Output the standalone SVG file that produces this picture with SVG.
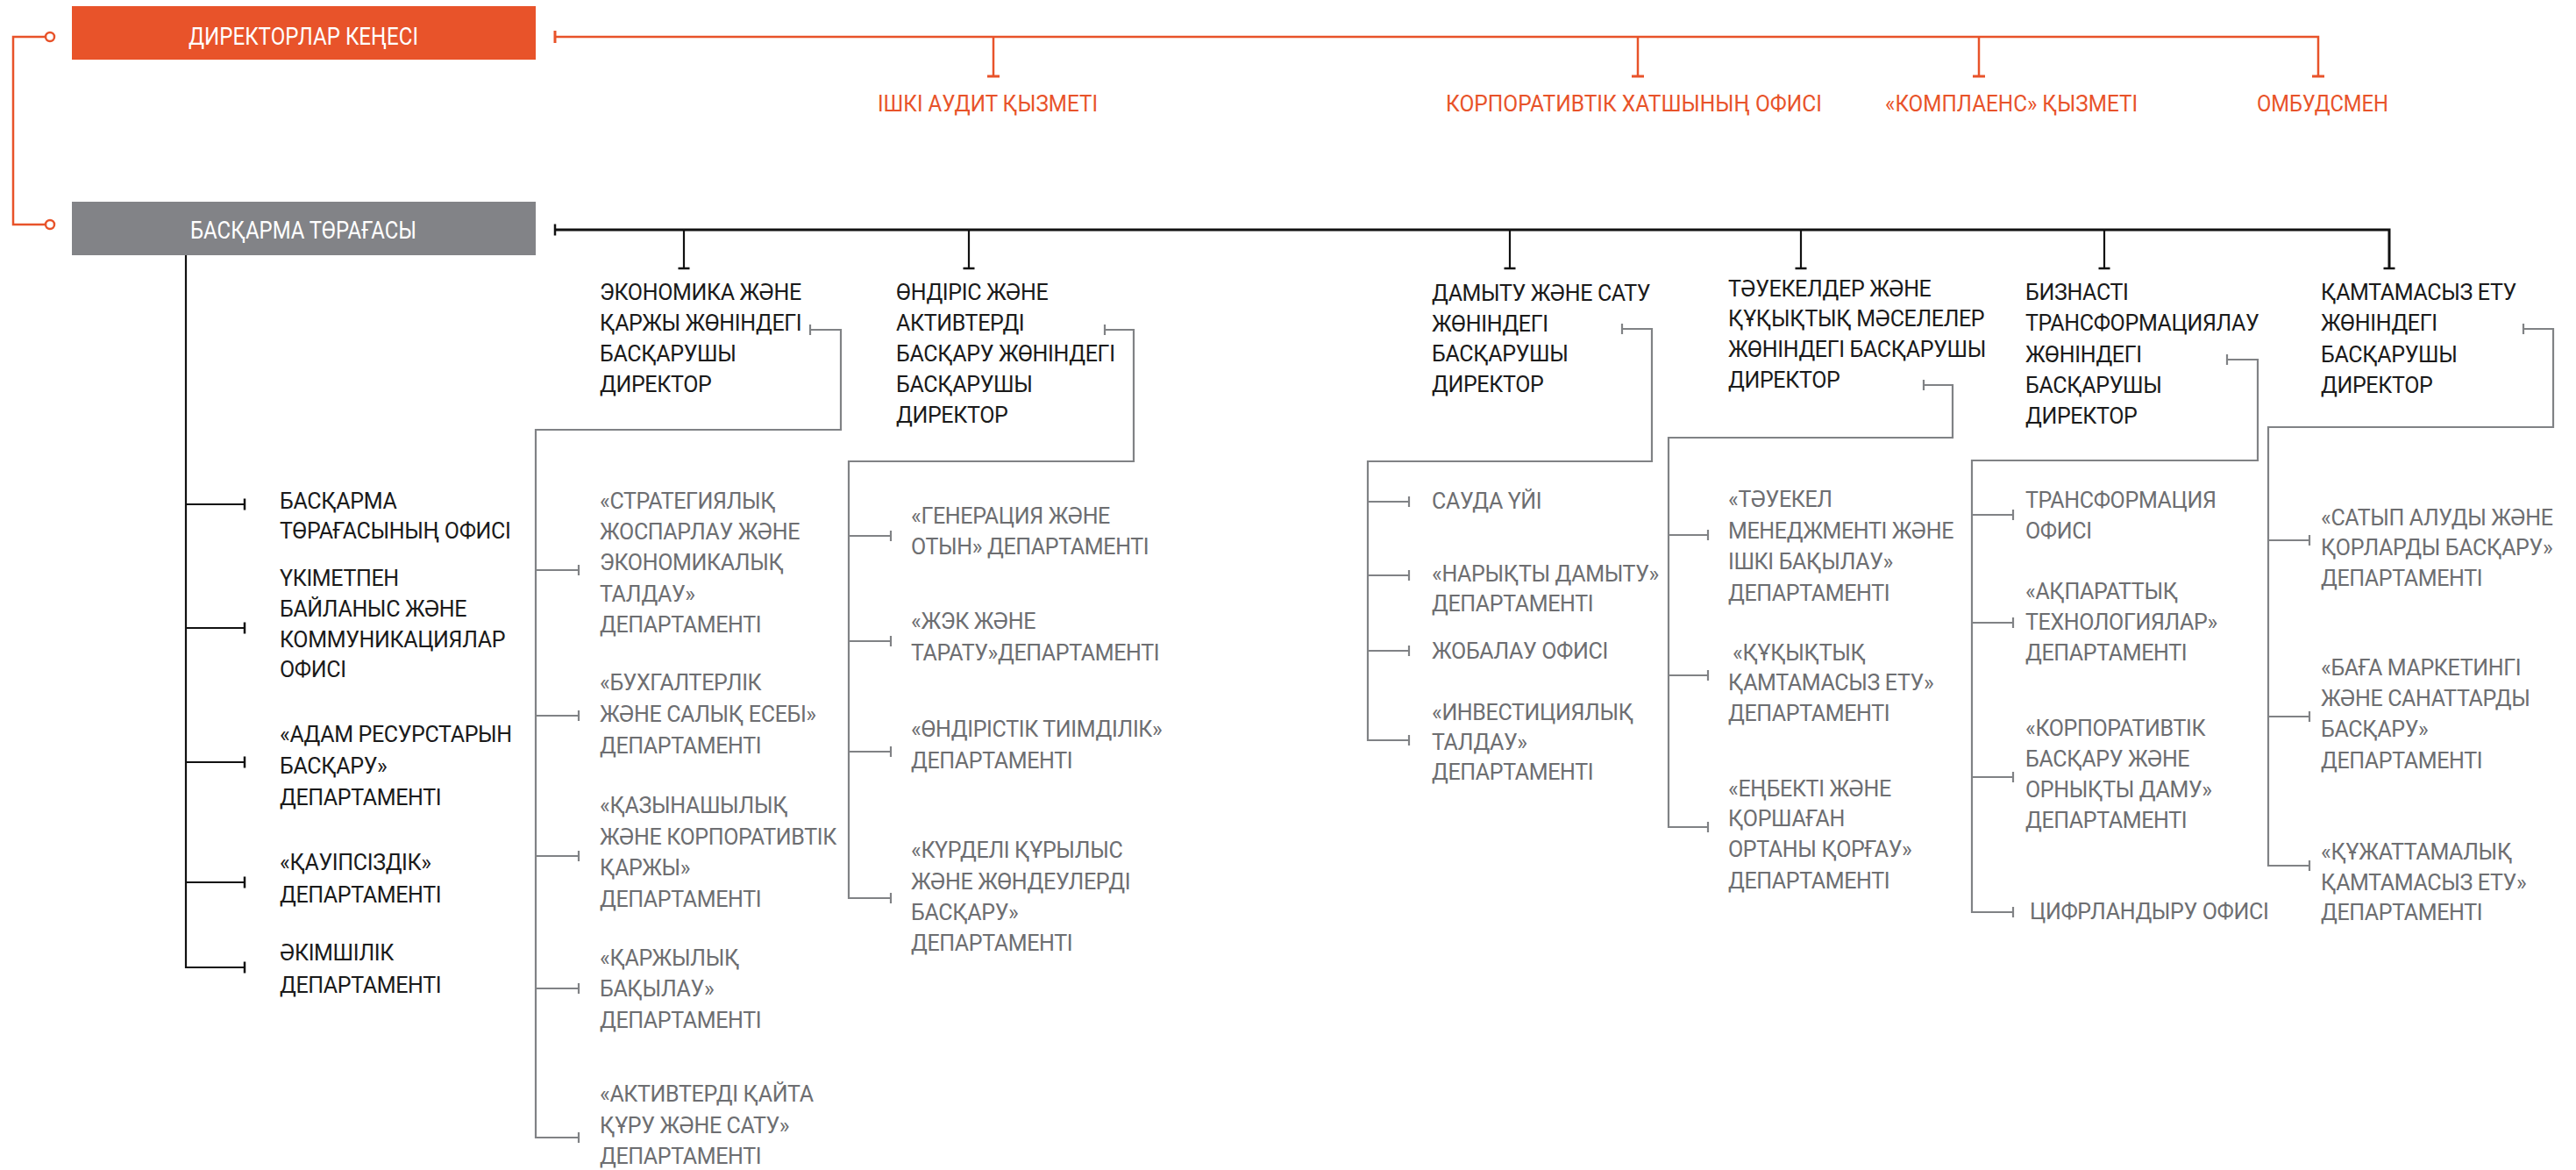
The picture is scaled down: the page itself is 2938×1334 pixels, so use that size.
<svg xmlns="http://www.w3.org/2000/svg" width="2938" height="1334" viewBox="0 0 2938 1334">
<defs>
<style>
text{font-family:Roboto,"Noto Sans","DejaVu Sans",sans-serif;font-size:25px;letter-spacing:-0.35px}
.blk{fill:#1a1a1a}
.gry{fill:#6d6e71}
.org{fill:#e8532a;font-size:26px;letter-spacing:0}
.box{fill:#ffffff;font-size:27px;letter-spacing:0}
.lo{stroke:#e8532a;stroke-width:2.5;fill:none}
.lb{stroke:#111111;stroke-width:2.2;fill:none}
.lbt{stroke:#111111;stroke-width:3;fill:none}
.lg{stroke:#808285;stroke-width:2.2;fill:none}
</style>
<marker id="to" viewBox="-2 -7 4 14" markerWidth="4" markerHeight="14" markerUnits="userSpaceOnUse" orient="auto" overflow="visible"><path d="M0,-7V7" stroke="#e8532a" stroke-width="3"/></marker>
<marker id="tb" viewBox="-2 -7 4 14" markerWidth="4" markerHeight="14" markerUnits="userSpaceOnUse" orient="auto" overflow="visible"><path d="M0,-6.5V6.5" stroke="#111111" stroke-width="2.5"/></marker>
<marker id="tg" viewBox="-2 -7 4 14" markerWidth="4" markerHeight="14" markerUnits="userSpaceOnUse" orient="auto" overflow="visible"><path d="M0,-6V6" stroke="#808285" stroke-width="2.2"/></marker>
</defs>
<rect width="2938" height="1334" fill="#ffffff"/>

<g id="connectors">
<!-- orange -->
<path class="lo" d="M52,42H15V256H52"/>
<circle cx="57" cy="42" r="5" fill="#fff" stroke="#e8532a" stroke-width="2.5"/>
<circle cx="57" cy="256" r="5" fill="#fff" stroke="#e8532a" stroke-width="2.5"/>
<path class="lo" d="M633,42H2644V87" marker-start="url(#to)" marker-end="url(#to)"/>
<line class="lo" x1="1133" y1="42" x2="1133" y2="87" marker-end="url(#to)"/>
<line class="lo" x1="1868" y1="42" x2="1868" y2="87" marker-end="url(#to)"/>
<line class="lo" x1="2257" y1="42" x2="2257" y2="87" marker-end="url(#to)"/>
<!-- black main -->
<path class="lbt" d="M633,262H2725V306" marker-start="url(#tb)" marker-end="url(#tb)"/>
<line class="lb" x1="780" y1="262" x2="780" y2="306" marker-end="url(#tb)"/>
<line class="lb" x1="1105" y1="262" x2="1105" y2="306" marker-end="url(#tb)"/>
<line class="lb" x1="1722" y1="262" x2="1722" y2="306" marker-end="url(#tb)"/>
<line class="lb" x1="2054" y1="262" x2="2054" y2="306" marker-end="url(#tb)"/>
<line class="lb" x1="2400" y1="262" x2="2400" y2="306" marker-end="url(#tb)"/>
<!-- left column -->
<line class="lb" x1="212" y1="291" x2="212" y2="1104"/>
<line class="lb" x1="212" y1="575" x2="279" y2="575" marker-end="url(#tb)"/>
<line class="lb" x1="212" y1="716" x2="279" y2="716" marker-end="url(#tb)"/>
<line class="lb" x1="212" y1="869" x2="279" y2="869" marker-end="url(#tb)"/>
<line class="lb" x1="212" y1="1006" x2="279" y2="1006" marker-end="url(#tb)"/>
<line class="lb" x1="211" y1="1103" x2="279" y2="1103" marker-end="url(#tb)"/>
<!-- col1 -->
<path class="lg" d="M924,376H959V490H611V1298" marker-start="url(#tg)"/>
<line class="lg" x1="611" y1="650" x2="660" y2="650" marker-end="url(#tg)"/>
<line class="lg" x1="611" y1="816" x2="660" y2="816" marker-end="url(#tg)"/>
<line class="lg" x1="611" y1="976" x2="660" y2="976" marker-end="url(#tg)"/>
<line class="lg" x1="611" y1="1127" x2="660" y2="1127" marker-end="url(#tg)"/>
<line class="lg" x1="610" y1="1297" x2="660" y2="1297" marker-end="url(#tg)"/>
<!-- col2 -->
<path class="lg" d="M1260,376H1293V526H968V1025" marker-start="url(#tg)"/>
<line class="lg" x1="968" y1="611" x2="1016" y2="611" marker-end="url(#tg)"/>
<line class="lg" x1="968" y1="731" x2="1016" y2="731" marker-end="url(#tg)"/>
<line class="lg" x1="968" y1="857" x2="1016" y2="857" marker-end="url(#tg)"/>
<line class="lg" x1="967" y1="1024" x2="1016" y2="1024" marker-end="url(#tg)"/>
<!-- col3 -->
<path class="lg" d="M1850,375H1884V526H1560V845" marker-start="url(#tg)"/>
<line class="lg" x1="1560" y1="572" x2="1607" y2="572" marker-end="url(#tg)"/>
<line class="lg" x1="1560" y1="656" x2="1607" y2="656" marker-end="url(#tg)"/>
<line class="lg" x1="1560" y1="742" x2="1607" y2="742" marker-end="url(#tg)"/>
<line class="lg" x1="1559" y1="844" x2="1607" y2="844" marker-end="url(#tg)"/>
<!-- col4 -->
<path class="lg" d="M2194,439H2227V499H1903V944" marker-start="url(#tg)"/>
<line class="lg" x1="1903" y1="610" x2="1948" y2="610" marker-end="url(#tg)"/>
<line class="lg" x1="1903" y1="770" x2="1948" y2="770" marker-end="url(#tg)"/>
<line class="lg" x1="1902" y1="943" x2="1948" y2="943" marker-end="url(#tg)"/>
<!-- col5 -->
<path class="lg" d="M2540,410H2575V525H2249V1041" marker-start="url(#tg)"/>
<line class="lg" x1="2249" y1="587" x2="2296" y2="587" marker-end="url(#tg)"/>
<line class="lg" x1="2249" y1="710" x2="2296" y2="710" marker-end="url(#tg)"/>
<line class="lg" x1="2249" y1="886" x2="2296" y2="886" marker-end="url(#tg)"/>
<line class="lg" x1="2248" y1="1040" x2="2296" y2="1040" marker-end="url(#tg)"/>
<!-- col6 -->
<path class="lg" d="M2878,375H2912V487H2587V988" marker-start="url(#tg)"/>
<line class="lg" x1="2587" y1="616" x2="2634" y2="616" marker-end="url(#tg)"/>
<line class="lg" x1="2587" y1="817" x2="2634" y2="817" marker-end="url(#tg)"/>
<line class="lg" x1="2586" y1="987" x2="2634" y2="987" marker-end="url(#tg)"/>
</g>

<g id="board">
<rect x="82" y="7" width="529" height="61" fill="#e8532a"/>
<text class="box" x="346" y="51" text-anchor="middle" textLength="262" lengthAdjust="spacingAndGlyphs">ДИРЕКТОРЛАР КЕҢЕСІ</text>
</g>
<g id="chairman">
<rect x="82" y="230" width="529" height="61" fill="#828387"/>
<text class="box" x="346" y="272" text-anchor="middle" textLength="258" lengthAdjust="spacingAndGlyphs">БАСҚАРМА ТӨРАҒАСЫ</text>
</g>

<g id="audit"><text class="org" x="1001" y="127" textLength="251" lengthAdjust="spacingAndGlyphs">ІШКІ АУДИТ ҚЫЗМЕТІ</text></g>
<g id="secretary"><text class="org" x="1649" y="127" textLength="429" lengthAdjust="spacingAndGlyphs">КОРПОРАТИВТІК ХАТШЫНЫҢ ОФИСІ</text></g>
<g id="compliance"><text class="org" x="2150" y="127" textLength="288" lengthAdjust="spacingAndGlyphs">«КОМПЛАЕНС» ҚЫЗМЕТІ</text></g>
<g id="ombudsman"><text class="org" x="2574" y="127" textLength="150" lengthAdjust="spacingAndGlyphs">ОМБУДСМЕН</text></g>

<g id="l1"><text class="blk"><tspan x="319" y="580">БАСҚАРМА</tspan><tspan x="319" y="614">ТӨРАҒАСЫНЫҢ ОФИСІ</tspan></text></g>
<g id="l2"><text class="blk"><tspan x="319" y="668">ҮКІМЕТПЕН</tspan><tspan x="319" y="703">БАЙЛАНЫС ЖӘНЕ</tspan><tspan x="319" y="738">КОММУНИКАЦИЯЛАР</tspan><tspan x="319" y="772">ОФИСІ</tspan></text></g>
<g id="l3"><text class="blk"><tspan x="319" y="846">«АДАМ РЕСУРСТАРЫН</tspan><tspan x="319" y="882">БАСҚАРУ»</tspan><tspan x="319" y="918">ДЕПАРТАМЕНТІ</tspan></text></g>
<g id="l4"><text class="blk"><tspan x="319" y="992">«ҚАУІПСІЗДІК»</tspan><tspan x="319" y="1029">ДЕПАРТАМЕНТІ</tspan></text></g>
<g id="l5"><text class="blk"><tspan x="319" y="1095">ӘКІМШІЛІК</tspan><tspan x="319" y="1132">ДЕПАРТАМЕНТІ</tspan></text></g>

<g id="d1"><text class="blk"><tspan x="684" y="342">ЭКОНОМИКА ЖӘНЕ</tspan><tspan x="684" y="377">ҚАРЖЫ ЖӨНІНДЕГІ</tspan><tspan x="684" y="412">БАСҚАРУШЫ</tspan><tspan x="684" y="447">ДИРЕКТОР</tspan></text></g>
<g id="d1a"><text class="gry"><tspan x="684" y="580">«СТРАТЕГИЯЛЫҚ</tspan><tspan x="684" y="615">ЖОСПАРЛАУ ЖӘНЕ</tspan><tspan x="684" y="650">ЭКОНОМИКАЛЫҚ</tspan><tspan x="684" y="686">ТАЛДАУ»</tspan><tspan x="684" y="721">ДЕПАРТАМЕНТІ</tspan></text></g>
<g id="d1b"><text class="gry"><tspan x="684" y="787">«БУХГАЛТЕРЛІК</tspan><tspan x="684" y="823">ЖӘНЕ САЛЫҚ ЕСЕБІ»</tspan><tspan x="684" y="859">ДЕПАРТАМЕНТІ</tspan></text></g>
<g id="d1c"><text class="gry"><tspan x="684" y="927">«ҚАЗЫНАШЫЛЫҚ</tspan><tspan x="684" y="963">ЖӘНЕ КОРПОРАТИВТІК</tspan><tspan x="684" y="998">ҚАРЖЫ»</tspan><tspan x="684" y="1034">ДЕПАРТАМЕНТІ</tspan></text></g>
<g id="d1d"><text class="gry"><tspan x="684" y="1101">«ҚАРЖЫЛЫҚ</tspan><tspan x="684" y="1136">БАҚЫЛАУ»</tspan><tspan x="684" y="1172">ДЕПАРТАМЕНТІ</tspan></text></g>
<g id="d1e"><text class="gry"><tspan x="684" y="1256">«АКТИВТЕРДІ ҚАЙТА</tspan><tspan x="684" y="1292">ҚҰРУ ЖӘНЕ САТУ»</tspan><tspan x="684" y="1327">ДЕПАРТАМЕНТІ</tspan></text></g>

<g id="d2"><text class="blk"><tspan x="1022" y="342">ӨНДІРІС ЖӘНЕ</tspan><tspan x="1022" y="377">АКТИВТЕРДІ</tspan><tspan x="1022" y="412">БАСҚАРУ ЖӨНІНДЕГІ</tspan><tspan x="1022" y="447">БАСҚАРУШЫ</tspan><tspan x="1022" y="482">ДИРЕКТОР</tspan></text></g>
<g id="d2a"><text class="gry"><tspan x="1039" y="597">«ГЕНЕРАЦИЯ ЖӘНЕ</tspan><tspan x="1039" y="632">ОТЫН» ДЕПАРТАМЕНТІ</tspan></text></g>
<g id="d2b"><text class="gry"><tspan x="1039" y="717">«ЖЭК ЖӘНЕ</tspan><tspan x="1039" y="753">ТАРАТУ»ДЕПАРТАМЕНТІ</tspan></text></g>
<g id="d2c"><text class="gry"><tspan x="1039" y="840">«ӨНДІРІСТІК ТИІМДІЛІК»</tspan><tspan x="1039" y="876">ДЕПАРТАМЕНТІ</tspan></text></g>
<g id="d2d"><text class="gry"><tspan x="1039" y="978">«КҮРДЕЛІ ҚҰРЫЛЫС</tspan><tspan x="1039" y="1014">ЖӘНЕ ЖӨНДЕУЛЕРДІ</tspan><tspan x="1039" y="1049">БАСҚАРУ»</tspan><tspan x="1039" y="1084">ДЕПАРТАМЕНТІ</tspan></text></g>

<g id="d3"><text class="blk"><tspan x="1633" y="343">ДАМЫТУ ЖӘНЕ САТУ</tspan><tspan x="1633" y="378">ЖӨНІНДЕГІ</tspan><tspan x="1633" y="412">БАСҚАРУШЫ</tspan><tspan x="1633" y="447">ДИРЕКТОР</tspan></text></g>
<g id="d3a"><text class="gry"><tspan x="1633" y="580">САУДА ҮЙІ</tspan></text></g>
<g id="d3b"><text class="gry"><tspan x="1633" y="663">«НАРЫҚТЫ ДАМЫТУ»</tspan><tspan x="1633" y="697">ДЕПАРТАМЕНТІ</tspan></text></g>
<g id="d3c"><text class="gry"><tspan x="1633" y="751">ЖОБАЛАУ ОФИСІ</tspan></text></g>
<g id="d3d"><text class="gry"><tspan x="1633" y="821">«ИНВЕСТИЦИЯЛЫҚ</tspan><tspan x="1633" y="855">ТАЛДАУ»</tspan><tspan x="1633" y="889">ДЕПАРТАМЕНТІ</tspan></text></g>

<g id="d4"><text class="blk"><tspan x="1971" y="338">ТӘУЕКЕЛДЕР ЖӘНЕ</tspan><tspan x="1971" y="372">ҚҰҚЫҚТЫҚ МӘСЕЛЕЛЕР</tspan><tspan x="1971" y="407">ЖӨНІНДЕГІ БАСҚАРУШЫ</tspan><tspan x="1971" y="442">ДИРЕКТОР</tspan></text></g>
<g id="d4a"><text class="gry"><tspan x="1971" y="578">«ТӘУЕКЕЛ</tspan><tspan x="1971" y="614">МЕНЕДЖМЕНТІ ЖӘНЕ</tspan><tspan x="1971" y="649">ІШКІ БАҚЫЛАУ»</tspan><tspan x="1971" y="685">ДЕПАРТАМЕНТІ</tspan></text></g>
<g id="d4b"><text class="gry"><tspan x="1976" y="753">«ҚҰҚЫҚТЫҚ</tspan><tspan x="1971" y="787">ҚАМТАМАСЫЗ ЕТУ»</tspan><tspan x="1971" y="822">ДЕПАРТАМЕНТІ</tspan></text></g>
<g id="d4c"><text class="gry"><tspan x="1971" y="908">«ЕҢБЕКТІ ЖӘНЕ</tspan><tspan x="1971" y="942">ҚОРШАҒАН</tspan><tspan x="1971" y="977">ОРТАНЫ ҚОРҒАУ»</tspan><tspan x="1971" y="1013">ДЕПАРТАМЕНТІ</tspan></text></g>

<g id="d5"><text class="blk"><tspan x="2310" y="342">БИЗНАСТІ</tspan><tspan x="2310" y="377">ТРАНСФОРМАЦИЯЛАУ</tspan><tspan x="2310" y="413">ЖӨНІНДЕГІ</tspan><tspan x="2310" y="448">БАСҚАРУШЫ</tspan><tspan x="2310" y="483">ДИРЕКТОР</tspan></text></g>
<g id="d5a"><text class="gry"><tspan x="2310" y="579">ТРАНСФОРМАЦИЯ</tspan><tspan x="2310" y="614">ОФИСІ</tspan></text></g>
<g id="d5b"><text class="gry"><tspan x="2310" y="683">«АҚПАРАТТЫҚ</tspan><tspan x="2310" y="718">ТЕХНОЛОГИЯЛАР»</tspan><tspan x="2310" y="753">ДЕПАРТАМЕНТІ</tspan></text></g>
<g id="d5c"><text class="gry"><tspan x="2310" y="839">«КОРПОРАТИВТІК</tspan><tspan x="2310" y="874">БАСҚАРУ ЖӘНЕ</tspan><tspan x="2310" y="909">ОРНЫҚТЫ ДАМУ»</tspan><tspan x="2310" y="944">ДЕПАРТАМЕНТІ</tspan></text></g>
<g id="d5d"><text class="gry"><tspan x="2315" y="1048">ЦИФРЛАНДЫРУ ОФИСІ</tspan></text></g>

<g id="d6"><text class="blk"><tspan x="2647" y="342">ҚАМТАМАСЫЗ ЕТУ</tspan><tspan x="2647" y="377">ЖӨНІНДЕГІ</tspan><tspan x="2647" y="413">БАСҚАРУШЫ</tspan><tspan x="2647" y="448">ДИРЕКТОР</tspan></text></g>
<g id="d6a"><text class="gry"><tspan x="2647" y="599">«САТЫП АЛУДЫ ЖӘНЕ</tspan><tspan x="2647" y="633">ҚОРЛАРДЫ БАСҚАРУ»</tspan><tspan x="2647" y="668">ДЕПАРТАМЕНТІ</tspan></text></g>
<g id="d6b"><text class="gry"><tspan x="2647" y="770">«БАҒА МАРКЕТИНГІ</tspan><tspan x="2647" y="805">ЖӘНЕ САНАТТАРДЫ</tspan><tspan x="2647" y="840">БАСҚАРУ»</tspan><tspan x="2647" y="876">ДЕПАРТАМЕНТІ</tspan></text></g>
<g id="d6c"><text class="gry"><tspan x="2647" y="980">«ҚҰЖАТТАМАЛЫҚ</tspan><tspan x="2647" y="1015">ҚАМТАМАСЫЗ ЕТУ»</tspan><tspan x="2647" y="1049">ДЕПАРТАМЕНТІ</tspan></text></g>
</svg>
